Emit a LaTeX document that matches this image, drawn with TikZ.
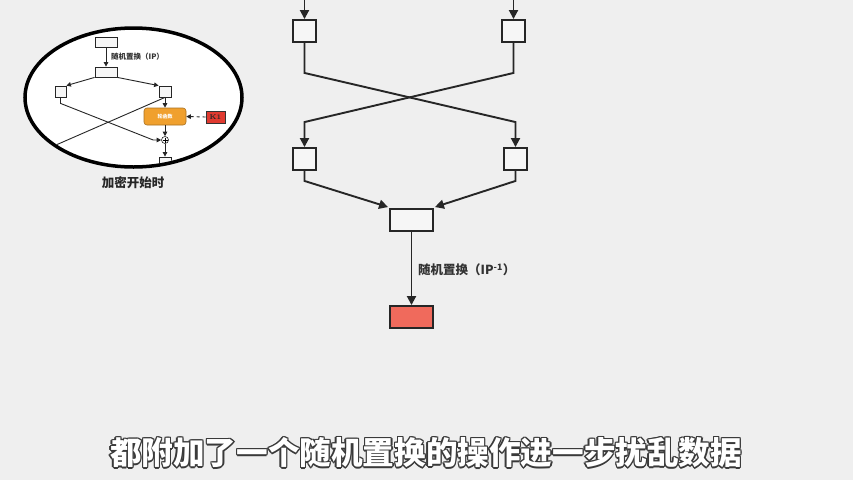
\documentclass[tikz,border=0pt]{standalone}
\usepackage{fontspec}
\newfontfamily\cjk{Noto Sans CJK SC}
\usetikzlibrary{arrows.meta,calc}
\definecolor{bg}{HTML}{EFEFEF}
\definecolor{boxfill}{HTML}{F6F6F6}
\definecolor{salmon}{HTML}{F06A5C}
\definecolor{orangefn}{HTML}{F0A02E}
\definecolor{keyred}{HTML}{E03A30}
\definecolor{txt}{HTML}{333333}
\definecolor{outl}{HTML}{3A3A3A}
\begin{document}
\begin{tikzpicture}[x=1pt,y=-1pt,
  mbox/.style={draw=black!85,line width=1.9pt,fill=boxfill,minimum width=23pt,minimum height=22pt,inner sep=0pt},
  mline/.style={draw=black!85,line width=1.9pt},
  marrow/.style={mline,-{Triangle[width=9pt,length=9pt]}},
  ibox/.style={draw=black!85,line width=0.8pt,fill=boxfill,inner sep=0pt},
  iline/.style={draw=black!85,line width=0.9pt},
  iarrow/.style={iline,-{Triangle[width=4.5pt,length=4.5pt]}},
  subtxt/.style={font=\cjk\bfseries\fontsize{31.6}{34}\selectfont,inner sep=0pt}]
\useasboundingbox (0,0) rectangle (853,480);
\fill[bg] (0,0) rectangle (853,480);

% ---------------- main diagram ----------------
\coordinate (tlin) at (304.5,0);
\coordinate (trin) at (513.5,0);
\node[mbox] (tl) at (304.5,31) {};
\node[mbox] (tr) at (513.5,31) {};
\node[mbox] (bl) at (304.5,159) {};
\node[mbox] (br) at (515.5,159) {};
\node[mbox,minimum width=43pt] (mid) at (411.5,220) {};
\node[mbox,minimum width=43pt,fill=salmon] (red) at (411.5,317) {};

\draw[marrow] (tlin) -- (tl.north);
\draw[marrow] (trin) -- (tr.north);
\draw[marrow] (tl.south) -- ($(tl.south)+(0,30)$) -- ($(br.north)+(0,-25)$) -- (br.north);
\draw[marrow] (tr.south) -- ($(tr.south)+(0,30)$) -- ($(bl.north)+(0,-25)$) -- (bl.north);
\draw[marrow] (bl.south) -- ($(bl.south)+(0,10)$) -- ($(mid.north west)+(-1,-1)$);
\draw[marrow] (br.south) -- ($(br.south)+(0,10)$) -- ($(mid.north east)+(1,-1)$);
\draw[marrow] (mid.south) -- (red.north);
\node[anchor=west,text=txt,font=\cjk\bfseries\fontsize{12.5}{14}\selectfont,inner sep=0pt] (lbl) at (418,270) {随机置换（IP\textsuperscript{-1}）};

% ---------------- inset ----------------
\fill[white] (133.5,97.5) ellipse [x radius=108.5, y radius=69.5];
\begin{scope}
\clip (133.5,97.5) ellipse [x radius=106.5, y radius=67.5];
\node[ibox,minimum width=22pt,minimum height=10pt] (ib1) at (106,42) {};
\node[ibox,minimum width=22pt,minimum height=10pt] (ib2) at (106,72) {};
\node[ibox,minimum width=11pt,minimum height=11pt] (il) at (60.5,91.5) {};
\node[ibox,minimum width=12pt,minimum height=11pt] (ir) at (165,91.5) {};
\node[draw=orangefn!70!black,line width=0.6pt,fill=orangefn,rounded corners=3pt,minimum width=42pt,minimum height=17pt,inner sep=0pt,text=white,font=\cjk\bfseries\fontsize{5}{6}\selectfont] (fn) at (165,116.5) {轮函数};
\node[draw=black!80,line width=0.6pt,fill=keyred,minimum width=19pt,minimum height=12pt,inner sep=0pt,font=\bfseries\fontsize{7}{8}\selectfont,text=black!85] (k1) at (215.5,117) {K1};
\node[circle,draw=black!85,line width=0.6pt,fill=white,minimum size=7pt,inner sep=0pt] (xr) at (165,140) {};
\draw[line width=0.5pt] ($(xr.center)+(-2.5,0)$) -- ($(xr.center)+(2.5,0)$) ($(xr.center)+(0,-2.5)$) -- ($(xr.center)+(0,2.5)$);
\node[ibox,minimum width=12pt,minimum height=10pt] (ib3) at (165,162) {};
\coordinate (xend) at (20,160.7);

\draw[iarrow] (ib1.south) -- (ib2.north);
\node[anchor=west,text=txt,font=\cjk\bfseries\fontsize{7.5}{9}\selectfont,inner sep=0pt] (ilbl) at (111,57) {随机置换（IP）};
\draw[iarrow] (ib2.south west) -- (il.north east);
\draw[iarrow] (ib2.south east) -- (ir.north west);
\draw[iarrow] (ir.south) -- (fn.north);
\draw[iarrow,dashed] (k1.west) -- (fn.east);
\draw[iarrow] (fn.south) -- (xr.north);
\draw[iarrow] (xr.south) -- (ib3.north);
\draw[iarrow] (il.south) -- ($(il.south)+(0,6)$) -- ($(xr.west)+(-8,0)$) -- (xr.west);
\draw[iline] (ir.south) -- (xend);
\end{scope}
\draw[line width=3.5pt,black] (133.5,97.5) ellipse [x radius=108.5, y radius=69.5];
\node[text=black!85,font=\cjk\bfseries\fontsize{12.5}{14}\selectfont,inner sep=0pt] (cap) at (133,183) {加密开始时};

% ---------------- subtitle (outlined text) ----------------
\foreach \dx/\dy in {-1.3/0,1.3/0,0/-1.3,0/1.3,-1/-1,1/-1,-1/1,1/1}{
  \node[text=outl,subtxt] at (426+\dx,453+\dy) {都附加了一个随机置换的操作进一步扰乱数据};
}
\node[text=white,subtxt] (sub) at (426,453) {都附加了一个随机置换的操作进一步扰乱数据};
\end{tikzpicture}
\end{document}
